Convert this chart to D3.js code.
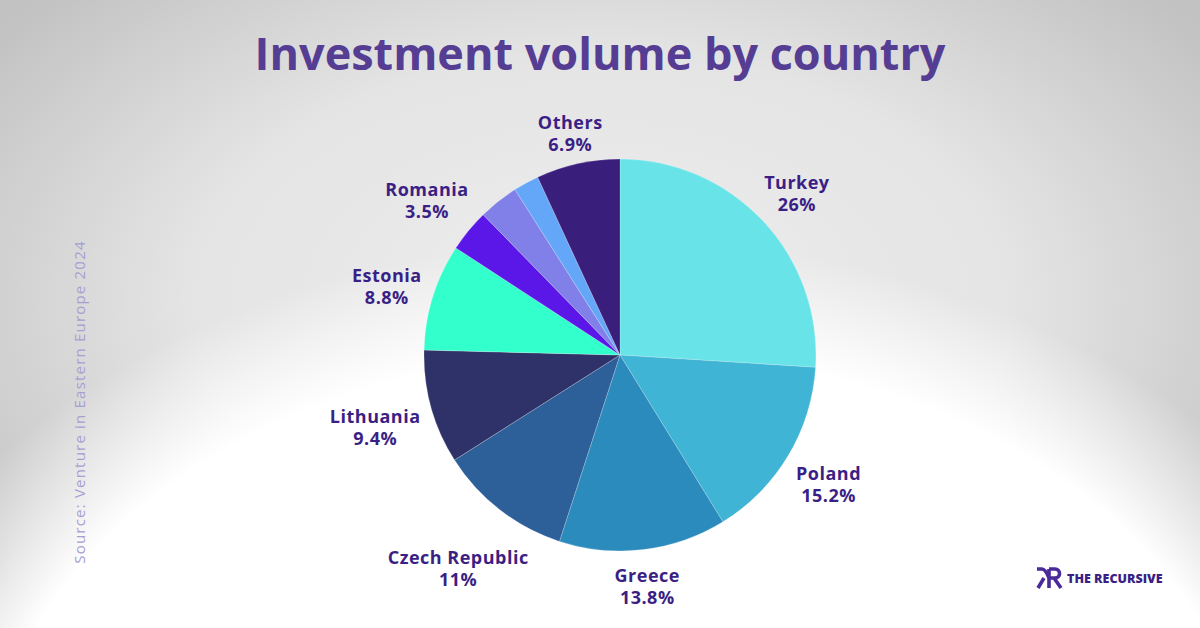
<!DOCTYPE html>
<html>
<head>
<meta charset="utf-8">
<script src="https://cdn.jsdelivr.net/npm/d3@7"></script>
<style>
  html, body { margin: 0; padding: 0; }
  body { width: 1200px; height: 628px; overflow: hidden; }
</style>
</head>
<body>
<div id="chart"></div>
<script>
// chart data (clockwise from 12 o'clock)
var countries = ["Turkey", "Poland", "Greece", "Czech Republic", "Lithuania", "Estonia", "Romania", "", "", "Others"];
var shares = [26, 15.2, 13.8, 11, 9.4, 8.8, 3.5, 3.3, 2.1, 6.9];
var sliceColors = ["#68e4e8", "#40b4d4", "#2b8bbd", "#2d5f99", "#2e3268", "#33ffcc", "#5b17e8", "#8080e8", "#64a6f8", "#3a1e7c"];

var titleText = "Investment volume by country";
var sourceText = "Source:  Venture in Eastern Europe 2024";

var width = 1200,
    height = 628;

var svg = d3.select("#chart").append("svg")
    .attr("width", width)
    .attr("height", height);

var defs = svg.append("defs");

// grey backdrop, lighter in the upper middle
var grey = defs.append("radialGradient")
    .attr("id", "grey")
    .attr("gradientUnits", "userSpaceOnUse")
    .attr("cx", 600).attr("cy", 300).attr("r", 450)
    .attr("gradientTransform", "translate(600,300) scale(1.67,1) translate(-600,-300)");
grey.append("stop").attr("offset", "0%").attr("stop-color", "#eeeeee");
grey.append("stop").attr("offset", "55%").attr("stop-color", "#e4e4e4");
grey.append("stop").attr("offset", "100%").attr("stop-color", "#c2c2c2");

// big soft white glow coming up from the bottom
var glow = defs.append("radialGradient")
    .attr("id", "glow")
    .attr("gradientUnits", "userSpaceOnUse")
    .attr("cx", 620).attr("cy", 800).attr("r", 560)
    .attr("gradientTransform", "translate(620,800) scale(1.41,1) translate(-620,-800)");
glow.append("stop").attr("offset", "0%").attr("stop-color", "#ffffff").attr("stop-opacity", 1);
glow.append("stop").attr("offset", "80%").attr("stop-color", "#ffffff").attr("stop-opacity", 1);
glow.append("stop").attr("offset", "100%").attr("stop-color", "#ffffff").attr("stop-opacity", 0);

svg.append("rect").attr("width", width).attr("height", height).attr("fill", "url(#grey)");
svg.append("rect").attr("width", width).attr("height", height).attr("fill", "url(#glow)");

// title
svg.append("text")
    .attr("x", 600)
    .attr("y", 70)
    .attr("text-anchor", "middle")
    .style("font-family", "'Open Sans', sans-serif")
    .style("font-weight", 700)
    .style("font-size", "45px")
    .style("fill", "#553d93")
    .text(titleText);

// pie
var cx = 620, cy = 355, radius = 196;

var pie = d3.pie().sort(null).value(function(d) { return d; });
var arc = d3.arc().innerRadius(0).outerRadius(radius);
var arcs = pie(shares);

var g = svg.append("g").attr("transform", "translate(" + cx + "," + cy + ")");

g.selectAll(".slice")
    .data(arcs)
    .enter().append("path")
    .attr("class", "slice")
    .attr("d", arc)
    .attr("fill", function(d, i) { return sliceColors[i]; })
    .attr("stroke", "rgba(255,255,255,0.35)")
    .attr("stroke-width", 0.6);

// labels outside the pie, pushed out far enough for the text box to clear it
var labelSize = 18, lineGap = 22, pad = 9;
arcs.forEach(function(d, i) {
    if (!countries[i]) return;
    var mid = (d.startAngle + d.endAngle) / 2;
    var ux = Math.sin(mid), uy = -Math.cos(mid);
    var lbl = g.append("text")
        .attr("text-anchor", "middle")
        .style("font-family", "'Open Sans', sans-serif")
        .style("font-weight", 700)
        .style("font-size", labelSize + "px")
        .style("letter-spacing", "0.5px")
        .style("fill", "#3b1f85");
    lbl.append("tspan").attr("x", 0).attr("dy", 0).text(countries[i]);
    lbl.append("tspan").attr("x", 0).attr("dy", lineGap).text(shares[i] + "%");
    var w = lbl.node().getBBox().width;
    var h = 40;
    var dist = radius + pad + Math.abs(ux) * w / 2 + Math.abs(uy) * h / 2;
    var lx = ux * dist, ly = uy * dist;
    lbl.attr("transform", "translate(" + lx + "," + ly + ")");
});

// source, rotated on the left side
svg.append("text")
    .attr("transform", "translate(85,402) rotate(-90)")
    .attr("text-anchor", "middle")
    .style("font-family", "'Open Sans', sans-serif")
    .style("font-weight", 400)
    .style("font-size", "15px")
    .style("letter-spacing", "1.2px")
    .style("fill", "#a89ed2")
    .text(sourceText);

// logo
var logo = svg.append("g").attr("transform", "translate(1035,566)");
logo.append("path")
    .attr("d", "M2,3 L7,3 C10,3 12,7 14,12 M9,12 L3,22 M14,3 L14,22 M14,3 L20,3 C26,3 26,12 20,12 L14,12 M19,12 L26,22")
    .attr("fill", "none")
    .attr("stroke", "#4a2a9a")
    .attr("stroke-width", 3.6)
    .attr("stroke-linejoin", "round");
logo.append("text")
    .attr("x", 32)
    .attr("y", 17)
    .style("font-family", "'Open Sans', sans-serif")
    .style("font-weight", 800)
    .style("font-size", "12.5px")
    .style("fill", "#3b1f85")
    .text("THE RECURSIVE");
</script>
</body>
</html>
